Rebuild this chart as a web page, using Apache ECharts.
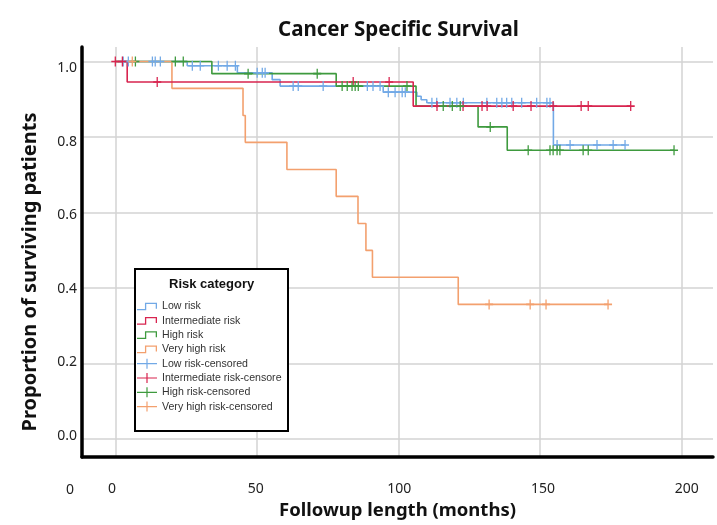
<!DOCTYPE html>
<html><head><meta charset="utf-8">
<script src="https://cdn.jsdelivr.net/npm/echarts@6/dist/echarts.min.js"></script>
<style>html,body{margin:0;padding:0;background:#fff}#c{width:717px;height:525px}</style>
</head><body><div id="c"></div>
<script>
// ---- data ----
const xTicks = [0, 50, 100, 150, 200];
const yTicks = [0, 0.2, 0.4, 0.6, 0.8, 1.0];

const lowT = [0, 25.4, 43.1, 55.4, 58.2, 94.6, 106.5, 108, 110, 154.7, 180];
const lowS = [1, 0.989, 0.970, 0.952, 0.935, 0.919, 0.908, 0.899, 0.891, 0.779, 0.779];
const lowCens = [2.8, 4.6, 13.1, 14.1, 15.9, 27.2, 30, 36.4, 39.5, 42.4, 50.1, 51.9, 52.9, 62.8, 64.6, 73.4, 89, 91, 93.5, 96.4, 98.8, 101.3, 102.4, 111.8, 113.5, 118.2, 120.6, 122.9, 131.2, 134.7, 136.5, 138.2, 140, 143.5, 148.8, 152.4, 153.5, 156, 160.6, 170.1, 175.8, 180];

const intT = [0, 4.2, 105.2, 182];
const intS = [1, 0.946, 0.882, 0.882];
const intCens = [0, 2.5, 14.8, 84, 96.7, 113.6, 122.8, 129.5, 131.3, 140.5, 146.8, 154.6, 164.5, 167, 182];

const highT = [0, 34.1, 78, 106.2, 128.1, 138.4, 197.3];
const highS = [1, 0.968, 0.935, 0.882, 0.827, 0.765, 0.765];
const highCens = [7.1, 21.2, 24, 46.9, 71.3, 80.1, 81.9, 83.6, 84.7, 85.8, 103, 115.8, 119, 121.8, 132.4, 145.8, 153.5, 154.6, 156, 157, 165.2, 167, 197.3];

const vhT = [0, 20, 45.1, 45.9, 60.6, 78, 85.7, 88.5, 90.8, 121.1, 174];
const vhS = [1, 0.929, 0.857, 0.786, 0.714, 0.643, 0.571, 0.5, 0.429, 0.357, 0.357];
const vhCens = [6, 132, 146.5, 152.1, 174];

const names = ['Low risk', 'Intermediate risk', 'High risk', 'Very high risk'];
const censNames = ['Low risk-censored', 'Intermediate risk-censore', 'High risk-censored', 'Very high risk-censored'];
const colors = ['#72a9e6', '#d8244f', '#3e9a3e', '#f3a06e'];

// ---- helpers ----
function pairs(T, S) { return T.map((t, i) => [t, S[i]]); }
function survAt(T, S, t) { let v = S[0]; for (let i = 0; i < T.length; i++) { if (T[i] <= t) v = S[i]; } return v; }
function censPts(T, S, C) { return C.map(t => [t, survAt(T, S, t)]); }

const curves = [[lowT, lowS, lowCens], [intT, intS, intCens], [highT, highS, highCens], [vhT, vhS, vhCens]];

const stepIcon = 'path://M0,7.4 H7.4 V1.4 H18.6 V7 H17.4 V2.6 H8.6 V8.6 H0 Z';
const plusIcon = 'path://M0,4.4 H9.4 V0 H10.6 V4.4 H20 V5.6 H10.6 V10 H9.4 V5.6 H0 Z';
const plusMark = 'path://M0,4.2 H4.2 V0 H5.8 V4.2 H10 V5.8 H5.8 V10 H4.2 V5.8 H0 Z';

const series = [];
curves.forEach((c, i) => {
  series.push({
    name: names[i], type: 'line', step: 'end', symbol: 'none', data: pairs(c[0], c[1]),
    xAxisIndex: 0, yAxisIndex: 0, z: 2 + (i === 1 ? 1 : 0),
    itemStyle: { color: colors[i] }, lineStyle: { color: colors[i], width: 1.6 }, silent: true
  });
});
curves.forEach((c, i) => {
  series.push({
    name: censNames[i], type: 'scatter', symbol: plusMark, symbolSize: [8, 10],
    data: censPts(c[0], c[1], c[2]), xAxisIndex: 0, yAxisIndex: 0, z: 4,
    itemStyle: { color: colors[i], opacity: 1 }, silent: true
  });
});

const FONT = 'Noto Sans';
const chart = echarts.init(document.getElementById('c'), null, { renderer: 'canvas' });
chart.setOption({
  animation: false,
  backgroundColor: '#fff',
  title: {
    text: 'Cancer Specific Survival', left: 273, top: 15,
    textStyle: { fontFamily: FONT, fontSize: 20.5, fontWeight: 'bold', color: '#111' }
  },
  grid: { left: 82, right: 4, top: 47, bottom: 63, containLabel: false },
  xAxis: [
    {
      type: 'value', min: -11.76, max: 211.06, position: 'bottom',
      axisLine: { show: true, onZero: false, lineStyle: { color: '#000', width: 3.5 } },
      axisTick: { show: false, customValues: xTicks },
      axisLabel: { show: false },
      splitLine: { show: true, lineStyle: { color: '#d3d3d3', width: 1.5 } }
    },
    {
      type: 'value', min: -10.43, max: 209.15, position: 'bottom',
      axisLine: { show: false }, axisTick: { show: false }, splitLine: { show: false },
      axisLabel: { show: true, customValues: xTicks, margin: 25, fontSize: 14, color: '#222', fontFamily: FONT },
      name: 'Followup length (months)', nameLocation: 'middle', nameGap: 44,
      nameTextStyle: { fontFamily: FONT, fontSize: 18.5, fontWeight: 'bold', color: '#111' }
    }
  ],
  yAxis: [
    {
      type: 'value', min: -0.0471, max: 1.0385, position: 'left',
      axisLine: { show: true, onZero: false, lineStyle: { color: '#000', width: 3.5 } },
      axisTick: { show: false, customValues: yTicks },
      axisLabel: { show: false },
      splitLine: { show: true, lineStyle: { color: '#d3d3d3', width: 1.5 } }
    },
    {
      type: 'value', min: -0.0578, max: 1.0578, position: 'left',
      axisLine: { show: false }, axisTick: { show: false }, splitLine: { show: false },
      axisLabel: { show: true, customValues: yTicks, margin: 5, fontSize: 14, color: '#222', fontFamily: FONT,
        formatter: v => v.toFixed(1) }
    }
  ],
  legend: {
    orient: 'vertical', left: 137, top: 301, padding: 0,
    itemWidth: 20, itemHeight: 10, itemGap: 3.3, selectedMode: false,
    itemStyle: { borderWidth: 0 },
    textStyle: { fontFamily: 'Liberation Sans', fontSize: 10.6, color: '#333', lineHeight: 10 },
    data: names.map(n => ({ name: n, icon: stepIcon })).concat(censNames.map(n => ({ name: n, icon: plusIcon }))),
    z: 6
  },
  graphic: [
    { type: 'rect', left: 134, top: 268, z: 5, shape: { width: 153, height: 162 },
      style: { fill: '#fff', stroke: '#000', lineWidth: 2 } },
    { type: 'text', left: 169, top: 278, z: 7, style: { text: 'Risk category',
      font: 'bold 13px "Liberation Sans"', fill: '#111' } },
    { type: 'text', left: 66, top: 483, z: 7, style: { text: '0', font: '14px "Noto Sans"', fill: '#222' } },
    { type: 'text', x: 30, y: 272, rotation: Math.PI / 2, z: 7, style: { text: 'Proportion of surviving patients',
      font: 'bold 20px "Noto Sans"', fill: '#111', align: 'center', verticalAlign: 'middle' } }
  ],
  series: series
});
</script></body></html>
